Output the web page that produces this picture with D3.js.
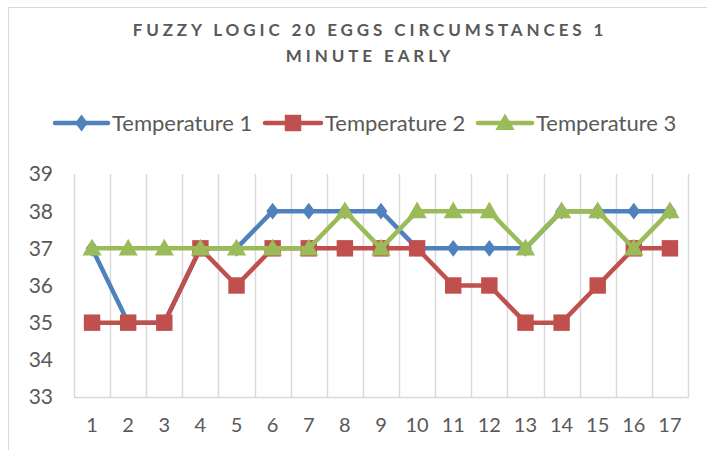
<!DOCTYPE html>
<html>
<head>
<meta charset="utf-8">
<script src="https://cdn.jsdelivr.net/npm/d3@7"></script>
<style>
  body { margin: 0; background: #fff; }
  svg { display: block; }
</style>
</head>
<body>
<div id="chart"></div>
<script>
const categories = ['1', '2', '3', '4', '5', '6', '7', '8', '9', '10', '11', '12', '13', '14', '15', '16', '17']
const temperature1 = [37, 35, 35, 37, 37, 38, 38, 38, 38, 37, 37, 37, 37, 38, 38, 38, 38]
const temperature2 = [35, 35, 35, 37, 36, 37, 37, 37, 37, 37, 36, 36, 35, 35, 36, 37, 37]
const temperature3 = [37, 37, 37, 37, 37, 37, 37, 38, 37, 38, 38, 38, 37, 38, 38, 37, 38]
const seriesNames = ['Temperature 1', 'Temperature 2', 'Temperature 3']
const yTicks = [33, 34, 35, 36, 37, 38, 39]
const titleLines = ['FUZZY LOGIC 20 EGGS CIRCUMSTANCES 1', 'MINUTE EARLY']

const width = 707
const height = 450
const plot = { left: 74, right: 688, top: 174, bottom: 397 }
const textColor = '#595959'
const gridColor = '#d9d9d9'
const colors = ['#4f81bd', '#c0504d', '#9bbb59']
const symbols = [d3.symbolDiamond, d3.symbolSquare, d3.symbolTriangle]
const symbolSizes = [90, 270, 160]
const font = 'Lato, "Open Sans", sans-serif'

const series = seriesNames.map((name, i) => ({
  name,
  values: [temperature1, temperature2, temperature3][i],
}))

const svg = d3.select('#chart')
  .append('svg')
  .attr('width', width)
  .attr('height', height)

// chart frame
svg.append('rect')
  .attr('x', 8.5).attr('y', 7.5)
  .attr('width', 720).attr('height', 460)
  .attr('fill', '#fff')
  .attr('stroke', gridColor)

// title
svg.append('g')
  .selectAll('text')
  .data(titleLines)
  .join('text')
  .attr('x', 370)
  .attr('y', (d, i) => 36 + i * 26)
  .attr('text-anchor', 'middle')
  .attr('font-family', font)
  .attr('font-weight', 'bold')
  .attr('font-size', 17)
  .attr('letter-spacing', 3.9)
  .attr('fill', textColor)
  .text(d => d)

const xScale = d3.scaleBand()
  .domain(categories)
  .range([plot.left, plot.right])

const yScale = d3.scaleLinear()
  .domain([33, 39])
  .range([plot.bottom, plot.top])

// vertical gridlines
const gridX = categories.map(c => xScale(c)).concat([plot.right])
svg.append('g')
  .selectAll('line')
  .data(gridX)
  .join('line')
  .attr('x1', d => Math.round(d) + 0.5)
  .attr('x2', d => Math.round(d) + 0.5)
  .attr('y1', plot.top)
  .attr('y2', plot.bottom)
  .attr('stroke', gridColor)
  .attr('stroke-width', 1.5)

// x axis line
svg.append('line')
  .attr('x1', plot.left)
  .attr('x2', plot.right + 1)
  .attr('y1', plot.bottom + 0.5)
  .attr('y2', plot.bottom + 0.5)
  .attr('stroke', gridColor)
  .attr('stroke-width', 1.5)

// y tick labels
svg.append('g')
  .selectAll('text')
  .data(yTicks)
  .join('text')
  .attr('x', 53)
  .attr('y', d => yScale(d))
  .attr('dy', '0.35em')
  .attr('text-anchor', 'end')
  .attr('font-family', font)
  .attr('font-size', 21)
  .attr('fill', textColor)
  .text(d => d)

// x tick labels
svg.append('g')
  .selectAll('text')
  .data(categories)
  .join('text')
  .attr('x', d => xScale(d) + xScale.bandwidth() / 2)
  .attr('y', 425)
  .attr('dy', '0.35em')
  .attr('text-anchor', 'middle')
  .attr('font-family', font)
  .attr('font-size', 20)
  .attr('fill', textColor)
  .text(d => d)

const line = d3.line()
  .x((d, i) => xScale(categories[i]) + xScale.bandwidth() / 2)
  .y(d => yScale(d))

series.forEach((s, si) => {
  const g = svg.append('g')
  g.append('path')
    .datum(s.values)
    .attr('d', line)
    .attr('fill', 'none')
    .attr('stroke', colors[si])
    .attr('stroke-width', 4.5)
    .attr('stroke-linejoin', 'round')

  g.selectAll('path.marker')
    .data(s.values)
    .join('path')
    .attr('class', 'marker')
    .attr('d', d3.symbol(symbols[si], symbolSizes[si]))
    .attr('transform', (d, i) =>
      `translate(${xScale(categories[i]) + xScale.bandwidth() / 2},${yScale(d) + (si === 2 ? 1.5 : 0)})` +
      (si === 0 ? ' scale(1.25,0.95)' : ''))
    .attr('fill', colors[si])
})

// legend
const legendItems = [
  { x: 55, textX: 112 },
  { x: 265, textX: 325 },
  { x: 478, textX: 536 },
]
const legend = svg.append('g')
legendItems.forEach((item, i) => {
  const g = legend.append('g')
  g.append('line')
    .attr('x1', item.x)
    .attr('x2', item.textX - 4)
    .attr('y1', 123)
    .attr('y2', 123)
    .attr('stroke', colors[i])
    .attr('stroke-width', 4.5)
    .attr('stroke-linecap', 'round')
  g.append('path')
    .attr('d', d3.symbol(symbols[i], symbolSizes[i])())
    .attr('transform', `translate(${(item.x + item.textX - 4) / 2},${123 + (i === 2 ? 1.5 : 0)})` +
      (i === 0 ? ' scale(1.25,0.95)' : ''))
    .attr('fill', colors[i])
  g.append('text')
    .attr('x', item.textX)
    .attr('y', 123)
    .attr('dy', '0.35em')
    .attr('font-family', font)
    .attr('font-size', 22)
    .attr('fill', textColor)
    .text(seriesNames[i])
})
</script>
</body>
</html>
